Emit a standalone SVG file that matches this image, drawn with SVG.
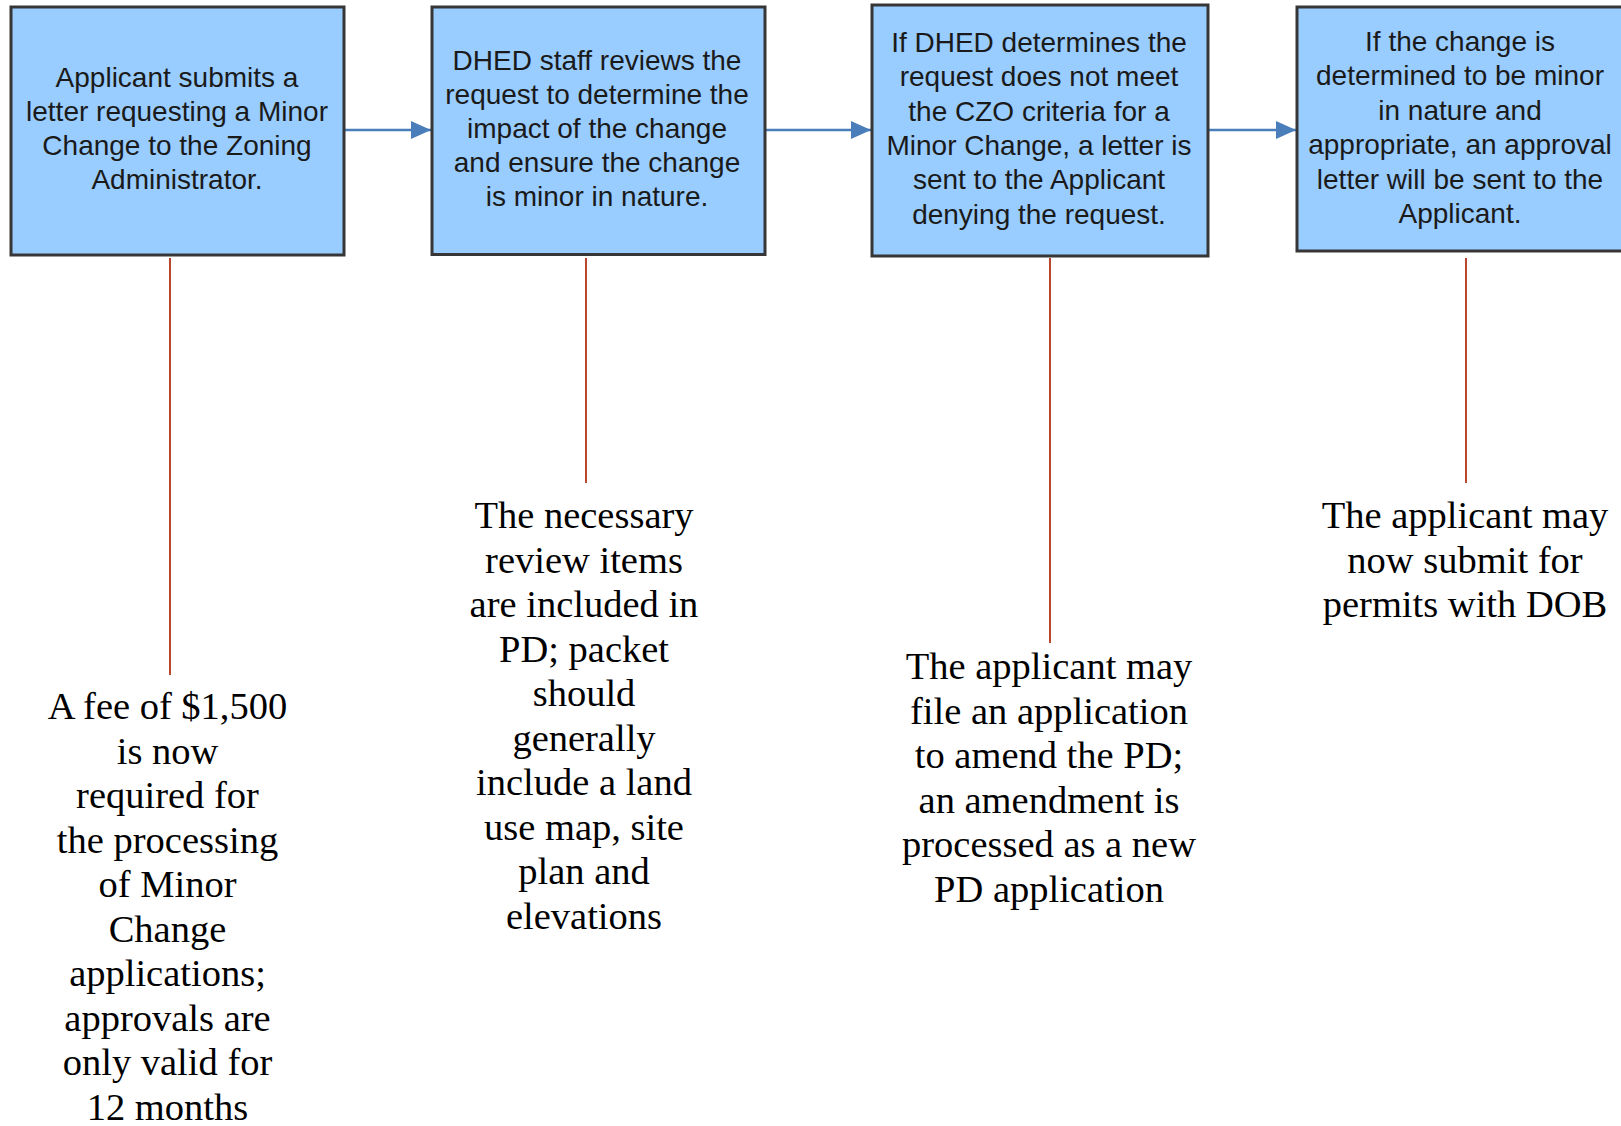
<svg xmlns="http://www.w3.org/2000/svg" width="1621" height="1126" viewBox="0 0 1621 1126">
<style>
.box{fill:#99CCFF;stroke:#363636;stroke-width:3}
.bt{font-family:"Liberation Sans",Arial,sans-serif;font-size:28px;fill:#1a1a1a;text-anchor:middle}
.nt{font-family:"Liberation Serif","Times New Roman",serif;font-size:38.5px;fill:#000;text-anchor:middle}
.arrow{stroke:#4A7EBB;stroke-width:2.5;fill:none}
.lead{stroke:#B9472F;stroke-width:2;fill:none}
</style>
<defs>
<marker id="ah" markerWidth="20" markerHeight="18" refX="20" refY="9" orient="auto" markerUnits="userSpaceOnUse">
<path d="M0,0 L20,9 L0,18 Z" fill="#4A7EBB"/>
</marker>
</defs>
<rect width="1621" height="1126" fill="#fff"/>
<g id="connectors">
<line class="arrow" x1="345" y1="130" x2="431" y2="130" marker-end="url(#ah)"/>
<line class="arrow" x1="766" y1="130" x2="871" y2="130" marker-end="url(#ah)"/>
<line class="arrow" x1="1209" y1="130" x2="1296" y2="130" marker-end="url(#ah)"/>
<line class="lead" x1="170" y1="258" x2="170" y2="675"/>
<line class="lead" x1="586" y1="258" x2="586" y2="483"/>
<line class="lead" x1="1050" y1="258" x2="1050" y2="643"/>
<line class="lead" x1="1466" y1="258" x2="1466" y2="483"/>
</g>
<g id="step1">
<rect class="box" x="11" y="7" width="333" height="248"/>
<text class="bt"><tspan x="177" y="87">Applicant submits a</tspan><tspan x="177" y="121">letter requesting a Minor</tspan><tspan x="177" y="155">Change to the Zoning</tspan><tspan x="177" y="189">Administrator.</tspan></text>
</g>
<g id="step2">
<rect class="box" x="432" y="7" width="333" height="247.5"/>
<text class="bt"><tspan x="597" y="69.5">DHED staff reviews the</tspan><tspan x="597" y="103.5">request to determine the</tspan><tspan x="597" y="137.5">impact of the change</tspan><tspan x="597" y="171.5">and ensure the change</tspan><tspan x="597" y="205.5">is minor in nature.</tspan></text>
</g>
<g id="step3">
<rect class="box" x="872" y="5" width="336" height="251"/>
<text class="bt"><tspan x="1039" y="52">If DHED determines the</tspan><tspan x="1039" y="86.3">request does not meet</tspan><tspan x="1039" y="120.6">the CZO criteria for a</tspan><tspan x="1039" y="154.9">Minor Change, a letter is</tspan><tspan x="1039" y="189.2">sent to the Applicant</tspan><tspan x="1039" y="223.5">denying the request.</tspan></text>
</g>
<g id="step4">
<rect class="box" x="1297" y="7" width="330" height="244"/>
<text class="bt"><tspan x="1460" y="51">If the change is</tspan><tspan x="1460" y="85.4">determined to be minor</tspan><tspan x="1460" y="119.8">in nature and</tspan><tspan x="1460" y="154.2">appropriate, an approval</tspan><tspan x="1460" y="188.6">letter will be sent to the</tspan><tspan x="1460" y="223">Applicant.</tspan></text>
</g>
<g id="note1">
<text class="nt"><tspan x="167.5" y="719">A fee of $1,500</tspan><tspan x="167.5" y="763.5">is now</tspan><tspan x="167.5" y="808">required for</tspan><tspan x="167.5" y="852.5">the processing</tspan><tspan x="167.5" y="897">of Minor</tspan><tspan x="167.5" y="941.5">Change</tspan><tspan x="167.5" y="986">applications;</tspan><tspan x="167.5" y="1030.5">approvals are</tspan><tspan x="167.5" y="1075">only valid for</tspan><tspan x="167.5" y="1119.5">12 months</tspan></text>
</g>
<g id="note2">
<text class="nt"><tspan x="584" y="528">The necessary</tspan><tspan x="584" y="572.5">review items</tspan><tspan x="584" y="617">are included in</tspan><tspan x="584" y="661.5">PD; packet</tspan><tspan x="584" y="706">should</tspan><tspan x="584" y="750.5">generally</tspan><tspan x="584" y="795">include a land</tspan><tspan x="584" y="839.5">use map, site</tspan><tspan x="584" y="884">plan and</tspan><tspan x="584" y="928.5">elevations</tspan></text>
</g>
<g id="note3">
<text class="nt"><tspan x="1049" y="679">The applicant may</tspan><tspan x="1049" y="723.5">file an application</tspan><tspan x="1049" y="768">to amend the PD;</tspan><tspan x="1049" y="812.5">an amendment is</tspan><tspan x="1049" y="857">processed as a new</tspan><tspan x="1049" y="901.5">PD application</tspan></text>
</g>
<g id="note4">
<text class="nt"><tspan x="1465" y="528">The applicant may</tspan><tspan x="1465" y="572.5">now submit for</tspan><tspan x="1465" y="617">permits with DOB</tspan></text>
</g>
</svg>
